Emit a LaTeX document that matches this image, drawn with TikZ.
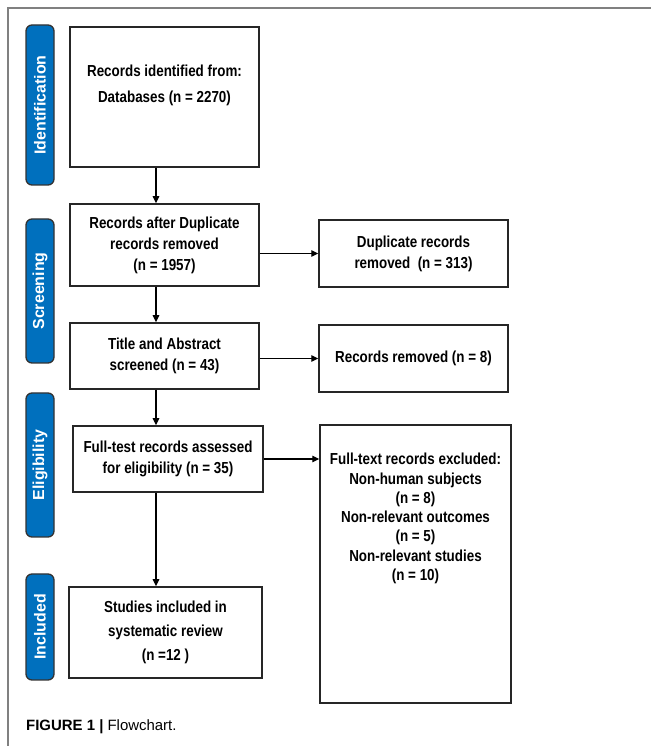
\documentclass[tikz,border=0pt]{standalone}
\usepackage{fontspec}
\setmainfont{Liberation Sans}
\newfontfamily\narrowfont{Liberation Sans}[FakeStretch=0.84]
\usetikzlibrary{arrows.meta}
\definecolor{stageblue}{RGB}{0,112,190}

\begin{document}
\begin{tikzpicture}[x=1bp,y=1bp,
	box/.style={draw=black!85, line width=1.5bp, fill=white, minimum width=189bp, align=center, inner sep=0pt, font=\narrowfont\fontsize{16}{21}\selectfont\bfseries},
	stage/.style={draw=black!80, line width=1.3bp, fill=stageblue, rounded corners=6bp, minimum height=28bp, rotate=90, text=white, inner sep=0pt, font=\fontsize{16}{18}\selectfont\bfseries},
	arr/.style={line width=1.1bp, -{Triangle[length=7bp,width=6.5bp]}}]
		\useasboundingbox (0,0) rectangle (651,746);
		\draw[gray, line width=1.5bp] (651,738) -- (8,738) -- (8,0);
		\node[stage, minimum width=160bp] (ident) at (40,641) {Identification};
		\node[stage, minimum width=144bp] (screen) at (40,455) {Screening};
		\node[stage, minimum width=144bp] (elig) at (40,281) {Eligibility};
		\node[stage, minimum width=106bp] (incl) at (40,119) {Included};
		\node[box, minimum height=140bp] (found) at (164.5,649) {Records identified from:\\[5bp]Databases (n = 2270)\\[5bp]\mbox{}};
		\node[box, minimum height=82bp] (dedup) at (164.5,501) {Records after Duplicate\\records removed\\(n = 1957)};
		\node[box, minimum height=67bp] (dupl) at (413.5,492.5) {Duplicate records\\removed\ \ (n = 313)};
		\node[box, minimum height=66bp] (screened) at (164.5,390) {Title and Abstract\\screened (n = 43)};
		\node[box, minimum height=67bp] (removed) at (413.5,387.5) {Records removed (n = 8)};
		\node[box, minimum width=190bp, minimum height=66bp] (assessed) at (168,287) {Full-test records assessed\\for eligibility (n = 35)};
		\node[box, minimum width=191bp, minimum height=278bp] (excluded) at (415.5,182) {};
		\node[anchor=north, align=center, inner sep=0pt, font=\narrowfont\fontsize{16}{19.3}\selectfont\bfseries] (excltext) at ([yshift=-29bp]excluded.north) {Full-text records excluded:\\Non-human subjects\\(n = 8)\\Non-relevant outcomes\\(n = 5)\\Non-relevant studies\\(n = 10)};
		\node[box, minimum width=193bp, minimum height=91bp, font=\narrowfont\fontsize{16}{24}\selectfont\bfseries] (included) at (165.5,113.5) {Studies included in\\systematic review\\(n =12 )};
		\coordinate (spine) at (156,0);
		\draw[arr] (found.south -| spine) -- (dedup.north -| spine);
		\draw[arr] (dedup.south -| spine) -- (screened.north -| spine);
		\draw[arr] (screened.south -| spine) -- (assessed.north -| spine);
		\draw[arr] (assessed.south -| spine) -- (included.north -| spine);
		\draw[arr] (dedup.east |- dupl.west) -- (dupl.west);
		\draw[arr] (screened.east |- removed.west) -- (removed.west);
		\draw[arr] (assessed.east) -- (assessed.east -| excluded.west);
		\node[anchor=west, inner sep=0pt, font=\fontsize{15}{18}\selectfont] (caption) at (26,19) {\textbf{FIGURE 1 |} Flowchart.};
	\end{tikzpicture}
\end{document}
